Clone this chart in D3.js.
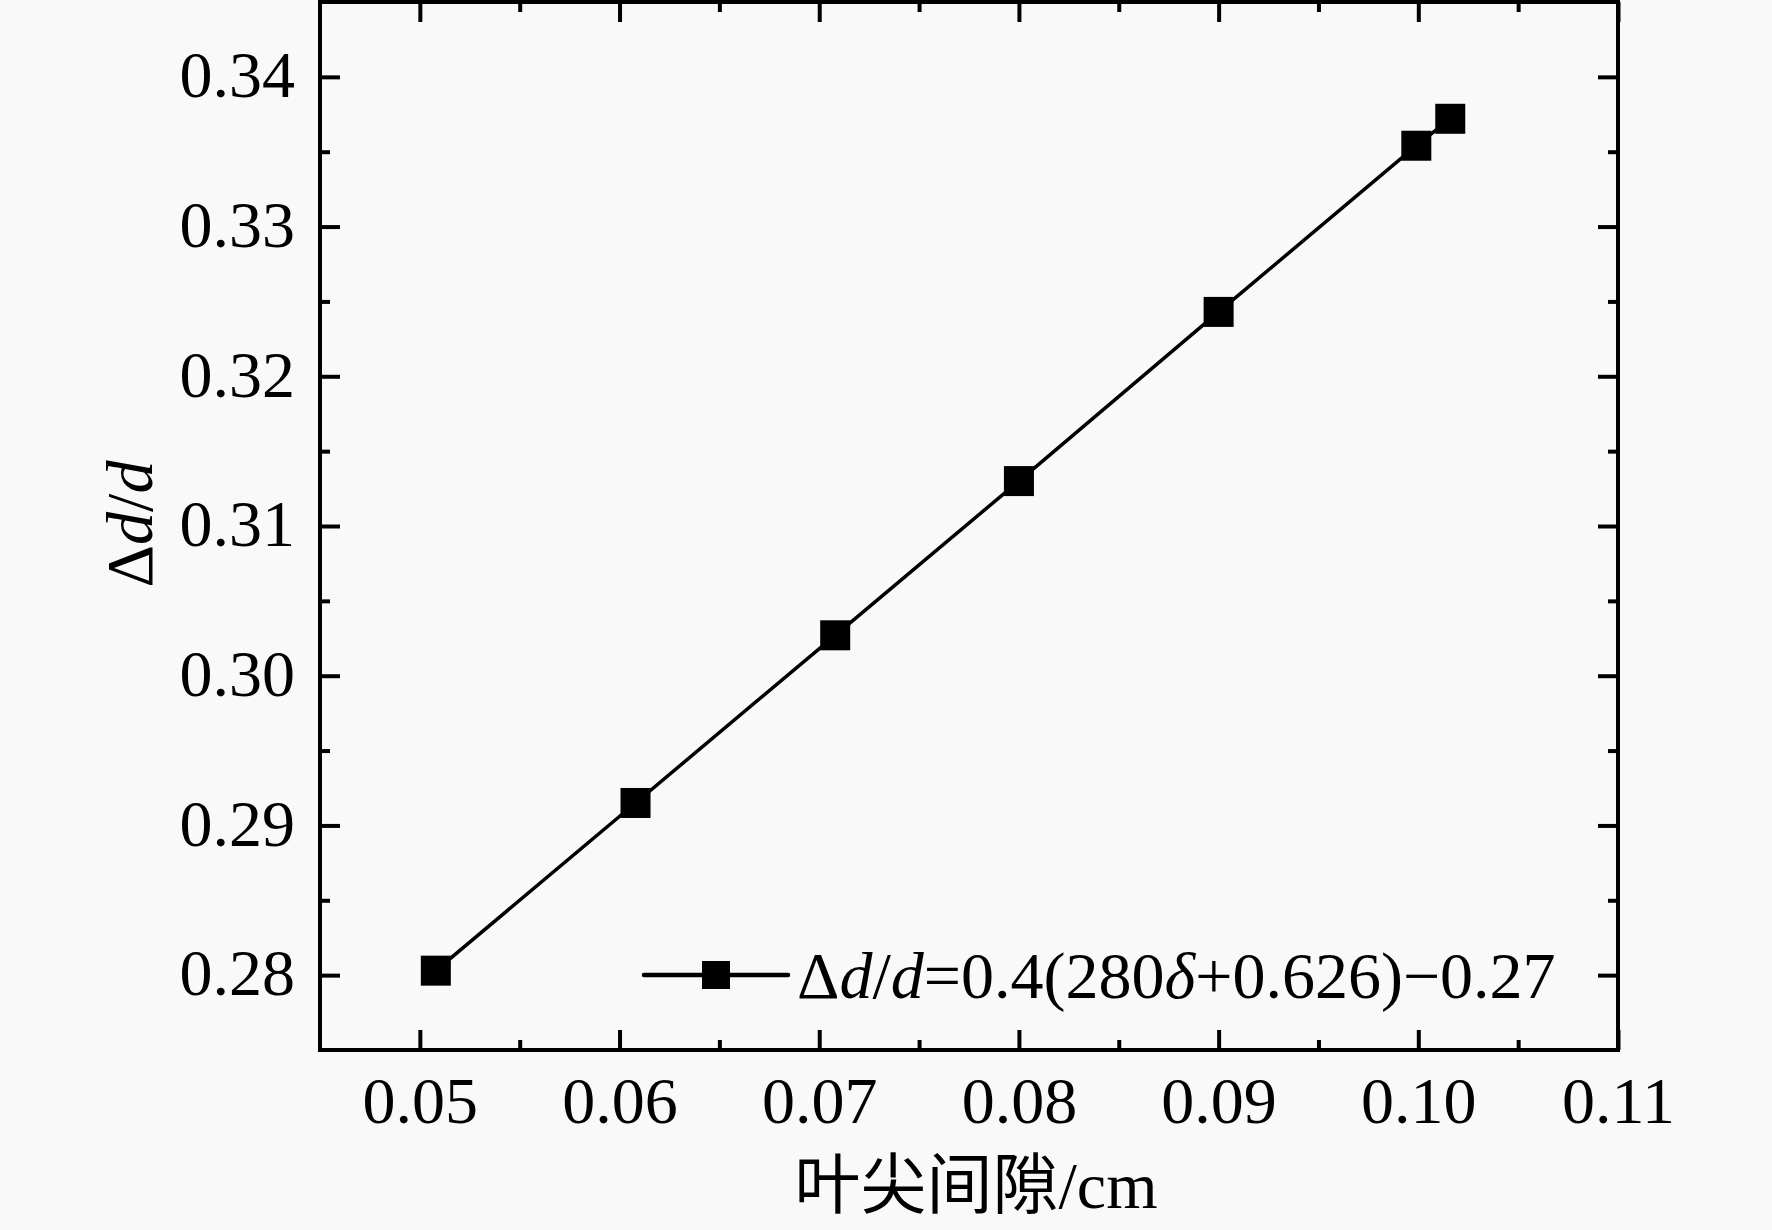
<!DOCTYPE html>
<html>
<head>
<meta charset="utf-8">
<script src="https://cdn.jsdelivr.net/npm/d3@7"></script>
<style>
  body { margin: 0; background: #f9f9f9; }
  svg { display: block; }
  text { font-family: "Liberation Serif", "Times New Roman", serif; fill: #000; }
</style>
</head>
<body>
<svg id="chart"></svg>
<script>
// data
var gapValues = [0.0508, 0.0608, 0.0708, 0.0800, 0.0900, 0.0999, 0.1016];
var ratioValues = [0.2803, 0.2915, 0.3027, 0.3130, 0.3243, 0.3354, 0.3372];
var xTicks = [0.05, 0.06, 0.07, 0.08, 0.09, 0.10, 0.11];
var yTicks = [0.28, 0.29, 0.30, 0.31, 0.32, 0.33, 0.34];
var xMinor = [0.055, 0.065, 0.075, 0.085, 0.095, 0.105];
var yMinor = [0.285, 0.295, 0.305, 0.315, 0.325, 0.335];

var W = 1772, H = 1230;
var margin = {top: 2, right: 154, bottom: 180, left: 320};
var width = W - margin.left - margin.right,
		height = H - margin.top - margin.bottom;

var svg = d3.select("svg#chart")
		.attr("width", W)
		.attr("height", H)
		.append("g")
		.attr("transform", "translate(" + margin.left + "," + margin.top + ")");

var x = d3.scaleLinear().domain([0.045, 0.11]).range([0, width]);
var y = d3.scaleLinear().domain([0.275, 0.345]).range([height, 0]);

var fmt = d3.format(".2f");

// major ticks pointing inward, with labels
function styleAxis(g) {
	g.select(".domain").remove();
	g.selectAll(".tick line").attr("stroke", "#000").attr("stroke-width", 4);
	g.selectAll("text").style("font-size", "66px").attr("fill", "#000");
}

svg.append("g")
		.attr("transform", "translate(0," + height + ")")
		.call(d3.axisBottom(x).tickValues(xTicks).tickFormat(fmt).tickSizeInner(-20).tickSizeOuter(0))
		.call(styleAxis)
		.selectAll("text").attr("dy", null).attr("y", 73);

svg.append("g")
		.call(d3.axisLeft(y).tickValues(yTicks).tickFormat(fmt).tickSizeInner(-20).tickSizeOuter(0))
		.call(styleAxis)
		.selectAll("text").attr("x", -25).attr("dy", "0.3em");

svg.append("g")
		.call(d3.axisTop(x).tickValues(xTicks).tickFormat("").tickSizeInner(-20).tickSizeOuter(0))
		.call(styleAxis);

svg.append("g")
		.attr("transform", "translate(" + width + ",0)")
		.call(d3.axisRight(y).tickValues(yTicks).tickFormat("").tickSizeInner(-20).tickSizeOuter(0))
		.call(styleAxis);

// minor ticks
svg.append("g").attr("transform", "translate(0," + height + ")")
		.call(d3.axisBottom(x).tickValues(xMinor).tickFormat("").tickSizeInner(-10).tickSizeOuter(0))
		.call(styleAxis);
svg.append("g")
		.call(d3.axisTop(x).tickValues(xMinor).tickFormat("").tickSizeInner(-10).tickSizeOuter(0))
		.call(styleAxis);
svg.append("g")
		.call(d3.axisLeft(y).tickValues(yMinor).tickFormat("").tickSizeInner(-10).tickSizeOuter(0))
		.call(styleAxis);
svg.append("g").attr("transform", "translate(" + width + ",0)")
		.call(d3.axisRight(y).tickValues(yMinor).tickFormat("").tickSizeInner(-10).tickSizeOuter(0))
		.call(styleAxis);

// frame
svg.append("rect")
		.attr("x", 0).attr("y", 0)
		.attr("width", width).attr("height", height)
		.attr("fill", "none")
		.attr("stroke", "#000")
		.attr("stroke-width", 4);

// series
var points = gapValues.map(function (d, i) { return {x: d, y: ratioValues[i]}; });

var line = d3.line()
		.x(function (d) { return x(d.x); })
		.y(function (d) { return y(d.y); });

svg.append("path")
		.datum(points)
		.attr("d", line)
		.attr("fill", "none")
		.attr("stroke", "#000")
		.attr("stroke-width", 3.5);

var ms = 30;
svg.selectAll(".pt")
		.data(points)
		.enter()
		.append("rect")
		.attr("class", "pt")
		.attr("x", function (d) { return x(d.x) - ms / 2; })
		.attr("y", function (d) { return y(d.y) - ms / 2; })
		.attr("width", ms)
		.attr("height", ms)
		.attr("fill", "#000");

// legend
var leg = svg.append("g").attr("transform", "translate(" + (644 - margin.left) + "," + (975 - margin.top) + ")");
leg.append("line")
		.attr("x1", 0).attr("x2", 144)
		.attr("y1", 0).attr("y2", 0)
		.attr("stroke", "#000").attr("stroke-width", 4.5)
		.attr("stroke-linecap", "round");
leg.append("rect")
		.attr("x", 72 - 14).attr("y", -14)
		.attr("width", 28).attr("height", 28)
		.attr("fill", "#000");
var lt = leg.append("text")
		.attr("x", 153).attr("y", 23)
		.style("font-size", "66px");
lt.append("tspan").text("\u0394");
lt.append("tspan").style("font-style", "italic").text("d");
lt.append("tspan").text("/");
lt.append("tspan").style("font-style", "italic").text("d");
lt.append("tspan").text("=0.4(280");
lt.append("tspan").style("font-style", "italic").text("\u03b4");
lt.append("tspan").text("+0.626)\u22120.27");

// axis titles
svg.append("text")
		.attr("x", width / 2 + 7)
		.attr("y", 1208 - margin.top)
		.attr("text-anchor", "middle")
		.style("font-size", "66px")
		.style("font-family", "'Liberation Serif', 'Noto Sans CJK SC', serif")
		.text("叶尖间隙/cm");

var yt = svg.append("text")
		.attr("transform", "translate(" + (152 - margin.left) + "," + (524 - margin.top) + ")rotate(-90)")
		.attr("text-anchor", "middle")
		.style("font-size", "66px");
yt.append("tspan").text("\u0394");
yt.append("tspan").style("font-style", "italic").text("d");
yt.append("tspan").text("/");
yt.append("tspan").style("font-style", "italic").text("d");
</script>
</body>
</html>
